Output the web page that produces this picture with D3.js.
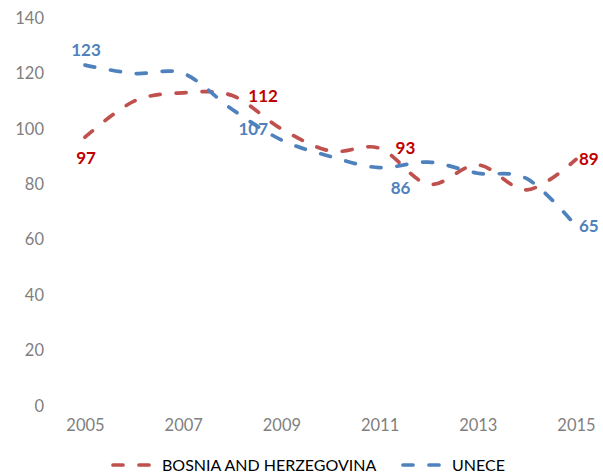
<!DOCTYPE html>
<html>
<head>
<meta charset="utf-8">
<script src="https://cdn.jsdelivr.net/npm/d3@7"></script>
<style>
  body { margin: 0; background: #fff; }
  text { font-family: Lato, "Open Sans", sans-serif; }
</style>
</head>
<body>
<script>
// data
var years = [2005, 2006, 2007, 2008, 2009, 2010, 2011, 2012, 2013, 2014, 2015];
var bosnia = [97, 110, 113, 112, 100, 92, 93, 80, 87, 78, 89];
var unece = [123, 120, 120, 107, 96, 90, 86, 88, 84, 82, 65];
var yTicks = [0, 20, 40, 60, 80, 100, 120, 140];
var xTicks = [2005, 2007, 2009, 2011, 2013, 2015];
var seriesNames = ['BOSNIA AND HERZEGOVINA', 'UNECE'];

// which points get a value label, and where it sits
var labelled = [
  { s: 0, i: 0, pos: 'below' },
  { s: 1, i: 0, pos: 'above' },
  { s: 0, i: 3, pos: 'right' },
  { s: 1, i: 3, pos: 'belowright' },
  { s: 0, i: 6, pos: 'right' },
  { s: 1, i: 6, pos: 'belowright' },
  { s: 0, i: 10, pos: 'end' },
  { s: 1, i: 10, pos: 'end' }
];

var w = 603, h = 474;
var lineColors = ['#C0504D', '#4F81BD'];
var labelColors = ['#C00000', '#4F81BD'];

var svg = d3.select('body').append('svg')
  .attr('width', w)
  .attr('height', h);

var x = d3.scaleLinear().domain([2005, 2015]).range([85, 576]);
var y = d3.scaleLinear().domain([0, 140]).range([406, 18]);

// y axis labels
var yAxis = svg.append('g')
  .attr('transform', 'translate(44,0)')
  .call(d3.axisLeft(y).tickValues(yTicks).tickSize(0).tickPadding(0));
yAxis.select('.domain').remove();
yAxis.selectAll('text')
  .attr('fill', '#7f7f7f')
  .style('font-size', '16.5px');

// x axis labels
var xAxis = svg.append('g')
  .attr('transform', 'translate(0,419)')
  .call(d3.axisBottom(x).tickValues(xTicks).tickFormat(d3.format('d')).tickSize(0).tickPadding(0));
xAxis.select('.domain').remove();
xAxis.selectAll('text')
  .attr('fill', '#7f7f7f')
  .style('font-size', '16.5px');

var line = d3.line()
  .x(function (d, i) { return x(years[i]); })
  .y(function (d) { return y(d); })
  .curve(d3.curveCardinal.tension(0));

var allSeries = [bosnia, unece];

svg.selectAll('path.series')
  .data(allSeries)
  .enter()
  .append('path')
  .attr('class', 'series')
  .attr('d', line)
  .attr('fill', 'none')
  .attr('stroke', function (d, i) { return lineColors[i]; })
  .attr('stroke-width', 3.7)
  .attr('stroke-linecap', 'round')
  .attr('stroke-dasharray', '10,16');

// value labels
svg.selectAll('text.val')
  .data(labelled)
  .enter()
  .append('text')
  .attr('class', 'val')
  .attr('x', function (d) {
    var px = x(years[d.i]);
    if (d.pos == 'right') return px + 16;
    if (d.pos == 'end') return px + 3;
    if (d.pos == 'belowright') return px + 21;
    return px + 1;
  })
  .attr('y', function (d) {
    var py = y(allSeries[d.s][d.i]);
    if (d.pos == 'below') return py + 21;
    if (d.pos == 'above') return py - 15;
    if (d.pos == 'belowright') return py + 20;
    return py;
  })
  .attr('text-anchor', function (d) { return (d.pos == 'right' || d.pos == 'end') ? 'start' : 'middle'; })
  .attr('dy', '0.35em')
  .attr('fill', function (d) { return labelColors[d.s]; })
  .style('font-size', '17px')
  .style('font-weight', 'bold')
  .text(function (d) { return allSeries[d.s][d.i]; });

// legend
var legendX = [112, 402];
var legend = svg.selectAll('g.legend')
  .data(seriesNames)
  .enter()
  .append('g')
  .attr('class', 'legend')
  .attr('transform', function (d, i) { return 'translate(' + legendX[i] + ',465)'; });
legend.append('line')
  .attr('x1', 1).attr('x2', 41)
  .attr('stroke', function (d, i) { return lineColors[i]; })
  .attr('stroke-width', 3.7)
  .attr('stroke-linecap', 'round')
  .attr('stroke-dasharray', '10,16');
legend.append('text')
  .attr('x', 50)
  .attr('dy', '0.35em')
  .attr('fill', '#000')
  .style('font-size', '16px')
  .text(function (d) { return d; });
</script>
</body>
</html>
